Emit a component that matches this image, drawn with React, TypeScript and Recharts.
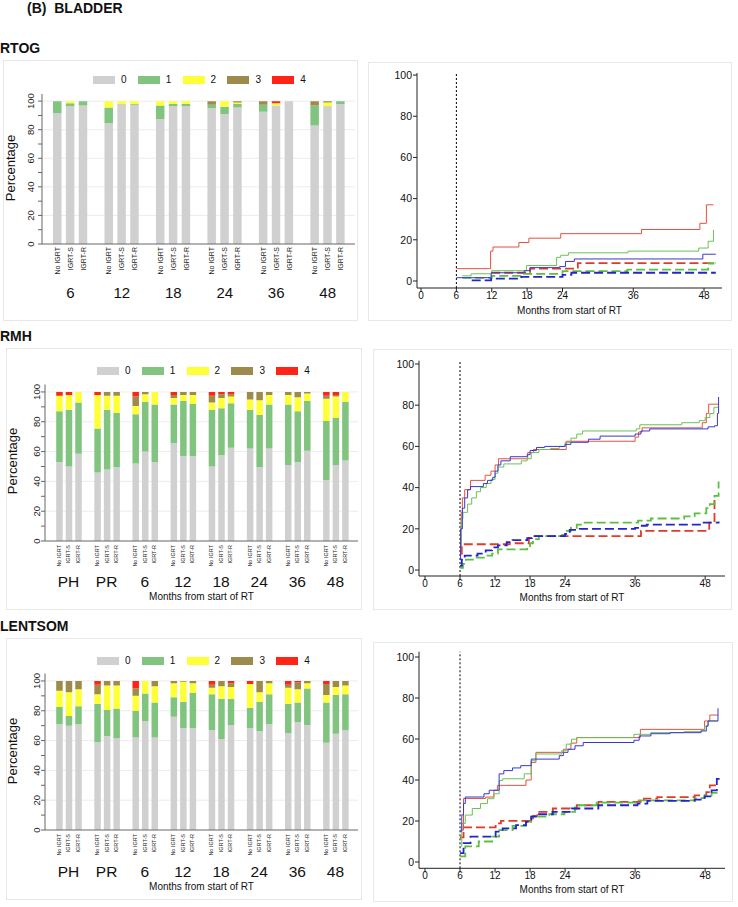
import React from 'react';
import { BarChart, Bar, XAxis, YAxis, CartesianGrid, LineChart, Line, ReferenceLine } from 'recharts';

const FONT = '"Liberation Sans", Arial, sans-serif';

// toxicity grades
const grades = ['0', '1', '2', '3', '4'];
const gradeColors = ['#d0d0d0', '#80c47f', '#ffff38', '#9d8b4b', '#ff2415'];

// bar categories
const arms = ['No IGRT', 'IGRT-S', 'IGRT-R'];
const rtogTimes = ['6', '12', '18', '24', '36', '48'];
const rmhTimes = ['PH', 'PR', '6', '12', '18', '24', '36', '48'];
const lentTimes = ['PH', 'PR', '6', '12', '18', '24', '36', '48'];

// RTOG % per grade (time x arm)
const rtogG0 = [91.5, 96.5, 97, 84.5, 98, 97.5, 87.5, 96.5, 96.5, 95, 91, 95.5, 92.5, 97, 100, 83, 96, 98];
const rtogG1 = [8.5, 2, 3, 11, 0, 0.5, 9.5, 1.5, 1.5, 2.5, 5, 2.5, 5, 0, 0, 14, 0.5, 2];
const rtogG2 = [0, 1.5, 0, 4.5, 2, 2, 3, 2, 2, 0, 4, 1, 0, 1.5, 0, 0, 2.5, 0];
const rtogG3 = [0, 0, 0, 0, 0, 0, 0, 0, 0, 2.5, 0, 1, 2.5, 0, 0, 3, 1, 0];
const rtogG4 = [0, 0, 0, 0, 0, 0, 0, 0, 0, 0, 0, 0, 0, 1.5, 0, 0, 0, 0];

// RMH
const rmhG0 = [53, 50, 58.5, 46, 48, 49.5, 52, 60, 53, 65.5, 57, 57, 50, 57.5, 62.5, 62, 49.5, 62, 51, 53, 60.5, 41, 51, 54];
const rmhG1 = [34, 38, 34.5, 29.5, 40, 36.5, 33, 33.5, 38.5, 26, 37, 35, 38, 31.5, 30, 26, 35, 29.5, 40.5, 34, 33.5, 39.5, 31.5, 39.5];
const rmhG2 = [10.5, 10, 7, 22.5, 9.5, 11.5, 5.5, 5, 8.5, 4.5, 4, 6, 5, 7, 4.5, 7, 10, 6.5, 6.5, 9.5, 5, 15, 14.5, 6.5];
const rmhG3 = [0, 0, 0, 0, 2.5, 2.5, 6.5, 1.5, 0, 2, 2, 2, 4.5, 2.5, 1.5, 5, 5.5, 2, 2, 3.5, 1, 2, 1, 0];
const rmhG4 = [2.5, 2, 0, 2, 0, 0, 3, 0, 0, 2, 0, 0, 2.5, 1.5, 1.5, 0, 0, 0, 0, 0, 0, 2.5, 2, 0];

// LENTSOM
const lentG0 = [71, 70, 71, 59, 63, 61.5, 62, 73, 62, 76, 68.5, 68.5, 67, 61, 70.5, 68.5, 66.5, 71, 65, 72.5, 70.5, 58.5, 64.5, 67];
const lentG1 = [11.5, 6.5, 12, 25.5, 17.5, 20, 18, 18.5, 23.5, 13, 17.5, 23.5, 24, 27, 17.5, 13.5, 19.5, 20, 19.5, 13, 24.5, 27, 26, 24];
const lentG2 = [11, 16, 11.5, 6.5, 16.5, 15.5, 10, 8.5, 11, 9.5, 13.5, 6.5, 4.5, 8.5, 8, 16, 6.5, 7.5, 11, 9, 3.5, 5, 5.5, 6];
const lentG3 = [6.5, 7.5, 5.5, 6.5, 3, 3, 5, 0, 3.5, 1.5, 0.5, 1.5, 2, 3.5, 2.5, 0, 7.5, 1.5, 2, 4.5, 1.5, 7.5, 4, 3];
const lentG4 = [0, 0, 0, 2.5, 0, 0, 5, 0, 0, 0, 0, 0, 2.5, 0, 1.5, 2, 0, 0, 2.5, 1, 0, 2, 0, 0];

// cumulative incidence curves [month, %]
const rtogRedSolid = [[6, 6], [11.8, 14.5], [12.2, 16.5], [16.6, 18.7], [18.3, 20.8], [23.7, 23], [37.4, 25], [47.3, 28], [48.4, 37], [49.6, 37]];
const rtogGreenSolid = [[7, 2.5], [8.5, 3.5], [12, 5], [17.9, 7.5], [23, 11.5], [23.7, 12.5], [25, 13.7], [35.1, 14.5], [47.1, 16], [48.7, 19.3], [49.6, 24.8]];
const rtogBlueSolid = [[6, 1.6], [11.9, 4], [17.5, 5], [18.5, 6.5], [23.5, 7], [24.5, 9.5], [26, 10.7], [47.8, 13], [50, 13]];
const rtogRedDash = [[11.9, 4], [18.5, 6], [26.6, 8.7], [50, 8.7]];
const rtogGreenDash = [[7, 1.5], [12, 2.5], [17, 3.5], [24, 4.8], [35, 5.5], [48.7, 8.5], [49.6, 9.2]];
const rtogBlueDash = [[8.6, 0.3], [11.9, 1.2], [17, 2], [24, 3], [25.5, 4], [50, 4]];

const rmhRedSolid = [[6, 8], [6.2, 28], [6.4, 35], [6.8, 39], [7.8, 43.5], [10.3, 46], [11.3, 48], [12, 51], [12.6, 54], [17.6, 57], [18.6, 58.5], [24.2, 62.5], [36, 64.5], [36.6, 67], [37.2, 69], [47.5, 71.5], [48.2, 76], [48.6, 80.5], [50.3, 80.5]];
const rmhBlueSolid = [[6, 5], [6.1, 20], [6.4, 30], [6.8, 35], [7.3, 39], [7.8, 40.5], [10, 42], [10.7, 43.5], [11.6, 45], [12, 48], [12.5, 51], [13, 53], [14.6, 55], [17.5, 56], [18, 58], [19.1, 59.5], [20.5, 60], [24, 61], [25, 62], [28, 63.5], [30, 65], [36, 66], [37, 67.5], [38.5, 68.5], [48.5, 69.5], [49.6, 70], [50.1, 76], [50.3, 84]];
const rmhGreenSolid = [[6, 12], [6.2, 25], [6.5, 28], [7.3, 32], [8, 35], [8.8, 38], [9.5, 40], [10.5, 42], [11.3, 44], [12, 47], [12.5, 50], [13.5, 51.5], [16.5, 53], [17.5, 54], [18.2, 57], [19.5, 58.5], [21.5, 59], [23, 60], [24, 62], [25, 64], [26, 66], [27, 67.5], [36.2, 68.5], [36.8, 70.5], [44, 71.5], [47, 72.5], [48, 74], [48.8, 76], [49.5, 79], [50.2, 79]];
const rmhRedDash = [[6, 8], [6.3, 12.5], [14.5, 13], [17.8, 15.5], [18.5, 16.5], [37, 19], [48.7, 23], [49.6, 34], [50.3, 34]];
const rmhBlueDash = [[6, 2], [6.3, 5], [6.8, 7], [9, 8], [10.4, 9.5], [11.5, 11], [12.5, 12], [14, 13.5], [15, 14.5], [17.5, 15.5], [18.3, 16.5], [24, 17.5], [24.8, 19.5], [26.5, 20], [36, 20.5], [36.5, 21.5], [38, 22], [47.5, 23], [50.3, 23.5]];
const rmhGreenDash = [[6, 1], [6.5, 3], [7, 5], [8.5, 6], [10.5, 7], [11.5, 8], [12.5, 10], [17.5, 11], [18, 13], [18.5, 15], [19.5, 16.5], [23.5, 17], [24, 19], [25, 20.5], [26, 22], [27, 23], [36, 23], [36.5, 24], [38.7, 25], [44.4, 26], [46.2, 27.5], [48.2, 30], [48.8, 32], [49.6, 36], [50.3, 43]];

const lentRedSolid = [[6, 15.6], [6.6, 31], [10.4, 31.7], [11.8, 35], [12.4, 37.4], [17.3, 40], [18.2, 48.6], [19, 53.5], [23.7, 55], [25, 58], [26, 60.7], [36.9, 64.7], [47.9, 68.8], [48.8, 71.7], [50.2, 71.7]];
const lentBlueSolid = [[6, 15], [6.3, 23], [6.6, 28.5], [6.9, 31.7], [10.1, 33.3], [11, 35], [12.7, 43], [13.5, 44.6], [15, 45.9], [16.4, 47], [18.2, 50.2], [23, 51.9], [23.7, 53.5], [24.5, 55], [25.7, 56.7], [27.1, 58.3], [35.8, 59.4], [36.7, 61.5], [38.7, 62.6], [42, 63.1], [47.3, 63.9], [48.2, 66.3], [48.5, 68.8], [49.9, 68.8], [50.2, 75]];
const lentGreenSolid = [[6, 7.6], [6.3, 18.8], [6.9, 22.9], [8.1, 26.1], [9.5, 28.5], [10.7, 30.9], [11.8, 33.3], [12.7, 39.8], [13.3, 40.6], [17, 43], [18.2, 49.4], [19, 52.7], [23.4, 54.3], [24.2, 57.5], [25.1, 59.9], [26, 60.7], [35.8, 62.3], [38.7, 63.1], [44.4, 63.6], [47.3, 64.3], [47.9, 66.3], [48.5, 68.8], [50.2, 68.8]];
const lentRedDash = [[6, 12], [6.6, 16.9], [12.1, 18.8], [13, 20.1], [18.5, 22.5], [19.2, 24.5], [21.9, 26.1], [26, 27.7], [29.7, 29.3], [37.5, 30.9], [39.8, 31.7], [46.2, 32.5], [48.2, 34.1], [48.8, 37.4], [50.2, 37.4]];
const lentBlueDash = [[6, 4.3], [6.6, 9.2], [7.8, 12.4], [12.1, 14.8], [13.3, 16.4], [15.6, 18], [17.3, 19.6], [18.2, 22.1], [19, 23.3], [21.9, 24.5], [25.1, 26.1], [29.7, 27.7], [36.4, 28.5], [38.1, 29.8], [46.2, 30.4], [47.9, 32], [49.1, 34.9], [50, 40.6], [51, 40.6]];
const lentGreenDash = [[6, 2.7], [6.9, 7.6], [9.2, 10], [11.5, 12.4], [12.7, 15.6], [15, 17.6], [17.3, 19.6], [18.2, 22.1], [21.3, 23.3], [23.9, 24.5], [25.7, 27.7], [29.4, 29], [36.6, 30.1], [46.2, 31.2], [47.9, 32.5], [49.1, 33.7], [50.5, 33.7]];

const monthTicks = [0, 6, 12, 18, 24, 36, 48];
const pctTicks = [0, 20, 40, 60, 80, 100];
const barTicks = [0, 10, 20, 30, 40, 50, 60, 70, 80, 90, 100];

const RED = '#e8503f', GREEN = '#68c255', BLUE = '#3838d0';
const RED_D = '#e23a2a', GREEN_D = '#5cbf3f', BLUE_D = '#2424cc';

function buildBarRows(times: string[], g: number[][]) {
  const rows: any[] = [];
  times.forEach((t, i) => {
    arms.forEach((a, j) => {
      const k = i * 3 + j;
      const row: any = { key: `${t}|${a}`, arm: a, time: t, mid: j === 1 };
      grades.forEach((_, gi) => { row[`g${gi}`] = g[gi][k]; });
      rows.push(row);
    });
    if (i < times.length - 1) rows.push({ key: `gap${i}`, arm: '', time: '', mid: false });
  });
  return rows;
}

const frame = (left: number, top: number, w: number, h: number) => (
  <div style={{ position: 'absolute', left, top, width: w, height: h, boxSizing: 'border-box', border: '1px solid #e8e8e8' }} />
);

function BarPanel({ cfg, times, g }: any) {
  const rows = buildBarRows(times, g);
  const byKey: any = Object.fromEntries(rows.map((r) => [r.key, r]));

  const XTick = (p: any) => {
    const r = byKey[p.payload.value];
    if (!r || !r.arm) return <g />;
    const bx = p.x + cfg.subFont * 0.35;
    const by = p.y + cfg.subDy;
    return (
      <g>
        <text x={bx} y={by} transform={`rotate(-90 ${bx} ${by})`} textAnchor="end" fontSize={cfg.subFont} fill="#222">{r.arm}</text>
        {r.mid && <text x={p.x} y={p.y + cfg.grpDy} textAnchor="middle" fontSize={cfg.grpFont} fill="#111">{r.time}</text>}
      </g>
    );
  };

  const YTick = (p: any) => {
    const v = p.payload.value;
    if (v % 20 !== 0) return <g />;
    const bx = p.x - cfg.yLabOff + 9.5 * 0.35;
    return (
      <text x={bx} y={p.y} transform={`rotate(-90 ${bx} ${p.y})`} textAnchor="middle" fontSize={9.5} fill="#222">{v}</text>
    );
  };

  return (
    <>
      {frame(cfg.left, cfg.top, cfg.w, cfg.h)}
      <div style={{ position: 'absolute', left: cfg.left, top: cfg.top, width: cfg.w, height: cfg.h }}>
        <BarChart width={cfg.w} height={cfg.h} data={rows} margin={{ top: cfg.mt, right: cfg.mr, left: 0, bottom: 0 }} barSize={cfg.barSize}>
          <CartesianGrid vertical={false} horizontalValues={[20, 40, 60, 80, 100]} stroke="#ececec" />
          <XAxis
            dataKey="key"
            interval={0}
            height={cfg.xh}
            tickLine={false}
            tickSize={0}
            tickMargin={0}
            stroke="#666"
            padding={{ left: cfg.padL, right: cfg.padR }}
            tick={XTick}
            label={cfg.months ? { value: 'Months from start of RT', position: 'insideBottom', offset: cfg.monthsOff, fontSize: 10, fill: '#111' } : undefined}
          />
          <YAxis
            type="number"
            domain={[0, 105]}
            ticks={barTicks}
            interval={0}
            width={cfg.yw}
            tickSize={4}
            tickMargin={0}
            stroke="#666"
            tick={YTick}
            allowDataOverflow
          />
          {grades.map((gr, gi) => (
            <Bar key={gr} dataKey={`g${gi}`} stackId="a" fill={gradeColors[gi]} isAnimationActive={false} />
          ))}
        </BarChart>
      </div>
      <div style={{ position: 'absolute', left: cfg.left + cfg.pctX, top: cfg.top + cfg.pctY, transform: 'translate(-50%, -50%) rotate(-90deg)', fontSize: 13, color: '#111', whiteSpace: 'nowrap' }}>Percentage</div>
      {grades.map((gr, gi) => (
        <React.Fragment key={gr}>
          <div style={{ position: 'absolute', left: cfg.left + cfg.legX + gi * 44.8, top: cfg.top + cfg.legY, width: 22, height: 8, background: gradeColors[gi] }} />
          <div style={{ position: 'absolute', left: cfg.left + cfg.legX + gi * 44.8 + 28, top: cfg.top + cfg.legY - 2, fontSize: 10, lineHeight: '12px', color: '#111' }}>{gr}</div>
        </React.Fragment>
      ))}
    </>
  );
}

const pts = (a: number[][]) => a.map(([m, v]) => ({ m, v }));

function CurvePanel({ cfg, series }: any) {
  return (
    <>
      {frame(cfg.left, cfg.top, cfg.w, cfg.h)}
      <div style={{ position: 'absolute', left: cfg.left, top: cfg.top, width: cfg.w, height: cfg.h }}>
        <LineChart width={cfg.w} height={cfg.h} margin={{ top: cfg.mt, right: cfg.mr, left: 0, bottom: 0 }}>
          <XAxis
            type="number"
            dataKey="m"
            domain={cfg.xDomain}
            ticks={monthTicks}
            interval={0}
            allowDataOverflow
            height={cfg.xh}
            tickSize={4}
            tickMargin={0}
            stroke="#222"
            tick={{ fontSize: 10, fill: '#111' }}
            label={{ value: 'Months from start of RT', position: 'insideBottom', offset: cfg.monthsOff, fontSize: 10, fill: '#111' }}
          />
          <YAxis
            type="number"
            domain={cfg.yDomain}
            ticks={pctTicks}
            interval={0}
            allowDataOverflow
            width={cfg.yw}
            tickSize={4}
            tickMargin={1}
            stroke="#222"
            tick={{ fontSize: 10.5, fill: '#111' }}
          />
          <ReferenceLine x={6} stroke="#000" strokeDasharray="2 2" strokeWidth={1} />
          {series.map((s: any) => (
            <Line
              key={s.name}
              data={pts(s.data)}
              dataKey="v"
              type="stepAfter"
              stroke={s.color}
              strokeWidth={s.dashed ? 1.8 : 1}
              strokeDasharray={s.dashed ? '9 4' : undefined}
              dot={false}
              activeDot={false}
              isAnimationActive={false}
            />
          ))}
        </LineChart>
      </div>
    </>
  );
}

const rtogBarCfg = { left: 3, top: 60, w: 355, h: 261, mt: 34, mr: 3, yw: 39, xh: 77, padL: 9, padR: 8, barSize: 8.5, subFont: 7, subDy: 3, grpFont: 15, grpDy: 54, yLabOff: 7, pctX: 7, pctY: 108, legX: 90, legY: 16, months: false, monthsOff: 0 };
const rmhBarCfg = { left: 6, top: 348, w: 356, h: 262, mt: 36.5, mr: 4, yw: 39, xh: 69, padL: 9.2, padR: 8.3, barSize: 6.5, subFont: 5.5, subDy: 4, grpFont: 15.5, grpDy: 46, yLabOff: 4, pctX: 6, pctY: 113, legX: 91, legY: 19, months: true, monthsOff: 10 };
const lentBarCfg = { left: 6, top: 638, w: 356, h: 262, mt: 35.5, mr: 4, yw: 39, xh: 70, padL: 9.2, padR: 8.3, barSize: 6.5, subFont: 5.5, subDy: 4, grpFont: 15.5, grpDy: 47, yLabOff: 4, pctX: 6, pctY: 113, legX: 91, legY: 19, months: true, monthsOff: 10 };

const rtogCurveCfg = { left: 368, top: 62, w: 364, h: 259, mt: 11, mr: 10, yw: 49, xh: 33, xDomain: [-0.68, 51.05], yDomain: [-3.4, 101], monthsOff: 7.5 };
const rmhCurveCfg = { left: 373, top: 349, w: 359, h: 261, mt: 11.7, mr: 7, yw: 46, xh: 34, xDomain: [-1.03, 51.4], yDomain: [-2.9, 101.6], monthsOff: 9 };
const lentCurveCfg = { left: 373, top: 642, w: 360, h: 260, mt: 9.7, mr: 8, yw: 46, xh: 33.7, xDomain: [-1.03, 51.4], yDomain: [-3.07, 102.6], monthsOff: 9 };

const curveSet = (rs: any, gs: any, bs: any, rd: any, gd: any, bd: any) => [
  { name: 'rd', data: rd, color: RED_D, dashed: true },
  { name: 'gd', data: gd, color: GREEN_D, dashed: true },
  { name: 'bd', data: bd, color: BLUE_D, dashed: true },
  { name: 'rs', data: rs, color: RED, dashed: false },
  { name: 'gs', data: gs, color: GREEN, dashed: false },
  { name: 'bs', data: bs, color: BLUE, dashed: false },
];

const headStyle: React.CSSProperties = { position: 'absolute', left: 0, fontSize: 14, fontWeight: 700, lineHeight: '16px', color: '#111', whiteSpace: 'pre' };

export default function App() {
  return (
    <div style={{ position: 'absolute', left: 0, top: 0, width: 738, height: 907, background: '#fff', fontFamily: FONT, overflow: 'hidden' }}>
      <div style={{ ...headStyle, left: 27, top: 0 }}>(B)  BLADDER</div>
      <div style={{ ...headStyle, top: 40 }}>RTOG</div>
      <div style={{ ...headStyle, top: 328 }}>RMH</div>
      <div style={{ ...headStyle, top: 618 }}>LENTSOM</div>

      <BarPanel cfg={rtogBarCfg} times={rtogTimes} g={[rtogG0, rtogG1, rtogG2, rtogG3, rtogG4]} />
      <CurvePanel cfg={rtogCurveCfg} series={curveSet(rtogRedSolid, rtogGreenSolid, rtogBlueSolid, rtogRedDash, rtogGreenDash, rtogBlueDash)} />

      <BarPanel cfg={rmhBarCfg} times={rmhTimes} g={[rmhG0, rmhG1, rmhG2, rmhG3, rmhG4]} />
      <CurvePanel cfg={rmhCurveCfg} series={curveSet(rmhRedSolid, rmhGreenSolid, rmhBlueSolid, rmhRedDash, rmhGreenDash, rmhBlueDash)} />

      <BarPanel cfg={lentBarCfg} times={lentTimes} g={[lentG0, lentG1, lentG2, lentG3, lentG4]} />
      <CurvePanel cfg={lentCurveCfg} series={curveSet(lentRedSolid, lentGreenSolid, lentBlueSolid, lentRedDash, lentGreenDash, lentBlueDash)} />
    </div>
  );
}
